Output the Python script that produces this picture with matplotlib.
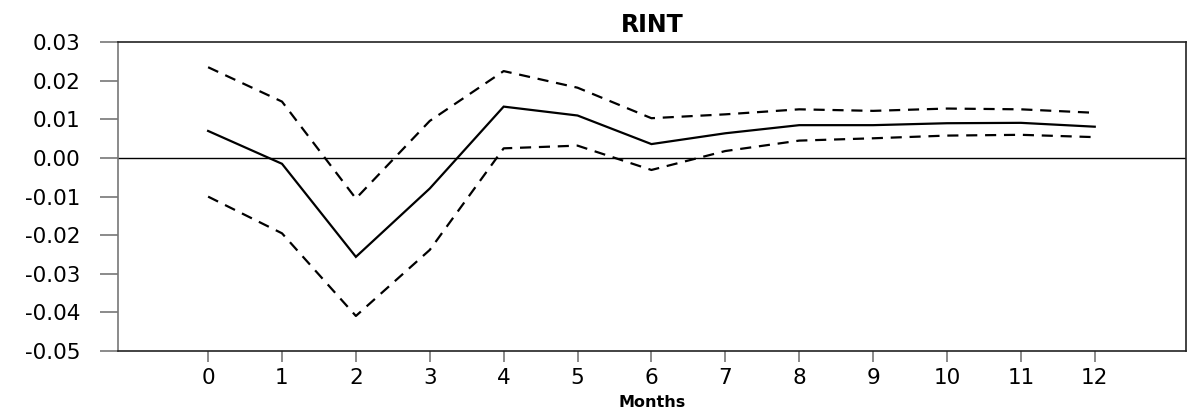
import matplotlib.pyplot as plt
import numpy as np

plt.rcParams['font.family'] = ['DejaVu Sans']

months = list(range(13))
response = [0.0070, -0.0015, -0.0256, -0.0079, 0.0133, 0.0110, 0.0036,
            0.0064, 0.0085, 0.0085, 0.0090, 0.0091, 0.0081]
upper = [0.0235, 0.0146, -0.0105, 0.0096, 0.0225, 0.0182, 0.0103,
         0.0113, 0.0126, 0.0122, 0.0128, 0.0126, 0.0117]
lower = [-0.0100, -0.0195, -0.0409, -0.0238, 0.0025, 0.0032, -0.0031,
         0.0018, 0.0045, 0.0051, 0.0058, 0.0060, 0.0054]
yticks = [0.03, 0.02, 0.01, 0.00, -0.01, -0.02, -0.03, -0.04, -0.05]

fig = plt.figure(figsize=(11.88, 4.17), dpi=100)
ax = fig.add_axes([0.0993, 0.158, 0.8987, 0.741])

ax.axhline(0, color='black', lw=1.0, zorder=1)
ax.plot(months, response, color='black', lw=1.6, solid_joinstyle='miter')
ax.plot(months, upper, color='black', lw=1.6, dashes=(5, 3.5))
ax.plot(months, lower, color='black', lw=1.6, dashes=(5, 3.5))

ax.set_xlim(-1.22, 13.23)
ax.set_ylim(-0.05, 0.03)
ax.set_xticks(months)
ax.set_yticks(yticks)
ax.set_yticklabels([f"{v:.2f}" for v in yticks])

ax.tick_params(axis='y', direction='out', length=13, width=1.2, color='#777777',
               labelsize=15.5, pad=14)
ax.tick_params(axis='x', direction='out', length=8, width=1.2, color='#777777',
               labelsize=15.5, pad=4)

for side in ['top', 'bottom', 'right']:
    ax.spines[side].set_color('#222222')
    ax.spines[side].set_linewidth(1.2)
ax.spines['left'].set_color('#777777')
ax.spines['left'].set_linewidth(1.2)

ax.set_title('RINT', fontsize=17, fontweight='bold', pad=7)
ax.set_xlabel('Months', fontsize=11.5, fontweight='bold', labelpad=5)

fig.savefig('out.png', dpi=100)
